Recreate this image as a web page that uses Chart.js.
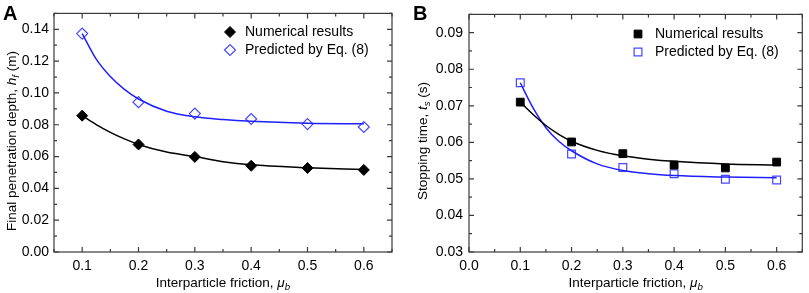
<!DOCTYPE html>
<html>
<head>
<meta charset="utf-8">
<script src="https://cdn.jsdelivr.net/npm/chart.js@4.4.0/dist/chart.umd.min.js"></script>
<style>
  html, body { margin: 0; padding: 0; background: #fff; }
  #wrap { position: relative; width: 809px; height: 293px; }
  #chartA { position: absolute; left: 0; top: 0; }
  #chartB { position: absolute; left: 404px; top: 0; }
</style>
</head>
<body>
<div id="wrap">
  <canvas id="chartA" width="404" height="293"></canvas>
  <canvas id="chartB" width="405" height="293"></canvas>
</div>
<script>
// gemeten punten (x = interparticle friction)
const friction = [0.1, 0.2, 0.3, 0.4, 0.5, 0.6];

// paneel A: final penetration depth (m)
const depthNumerical = [0.0857, 0.0676, 0.0598, 0.0542, 0.0528, 0.0516];
const depthPredicted = [0.1373, 0.0942, 0.0870, 0.0836, 0.0804, 0.0786];
const fitFriction = [0.1, 0.125, 0.15, 0.175, 0.2, 0.25, 0.3, 0.35, 0.4, 0.5, 0.6];
const depthNumFit = [0.0857, 0.0801, 0.0752, 0.0711, 0.0676, 0.0628, 0.0600, 0.0568, 0.0548, 0.0530, 0.0518];
const depthPredFit = [0.1373, 0.1212, 0.1103, 0.1022, 0.0962, 0.0885, 0.0850, 0.0833, 0.0822, 0.0810, 0.0806];

// paneel B: stopping time (s)
const timeNumerical = [0.0710, 0.0601, 0.0569, 0.0538, 0.0530, 0.0546];
const timePredicted = [0.0763, 0.0568, 0.0531, 0.0514, 0.0499, 0.0497];
const timeNumFit = [0.0710, 0.0676, 0.0646, 0.0622, 0.0603, 0.0578, 0.0563, 0.0554, 0.0548, 0.0541, 0.0538];
const timePredFit = [0.0763, 0.0694, 0.0640, 0.0603, 0.0577, 0.0541, 0.0523, 0.0514, 0.0509, 0.0505, 0.0503];

// as-ticks
const xMajorA = [0.1, 0.2, 0.3, 0.4, 0.5, 0.6];
const xMinorA = [0.05, 0.15, 0.25, 0.35, 0.45, 0.55, 0.65];
const yMajorA = [0.00, 0.02, 0.04, 0.06, 0.08, 0.10, 0.12, 0.14];
const yMinorA = [0.01, 0.03, 0.05, 0.07, 0.09, 0.11, 0.13, 0.15];
const xMajorB = [0.0, 0.1, 0.2, 0.3, 0.4, 0.5, 0.6];
const xMinorB = [0.05, 0.15, 0.25, 0.35, 0.45, 0.55, 0.65];
const yMajorB = [0.03, 0.04, 0.05, 0.06, 0.07, 0.08, 0.09];
const yMinorB = [0.035, 0.045, 0.055, 0.065, 0.075, 0.085, 0.095];

const legendLabels = ['Numerical results', 'Predicted by Eq. (8)'];

const FONT = '"Liberation Sans", Arial, sans-serif';
const BLUE_LINE = '#1f1fff';
const BLUE_MARK = '#4646ff';

const zip = (xs, ys) => xs.map((x, i) => ({ x: x, y: ys[i] }));

// tekst met cursief en subscript
function drawRich(ctx, parts, x, y, size, rotate) {
  ctx.save();
  ctx.translate(x, y);
  if (rotate) ctx.rotate(-Math.PI / 2);
  const fontOf = p => (p.italic ? 'italic ' : '') + (p.sub ? size * 0.72 : size) + 'px ' + FONT;
  let w = 0;
  parts.forEach(p => { ctx.font = fontOf(p); w += ctx.measureText(p.text).width; });
  let cx = -w / 2;
  ctx.fillStyle = '#000';
  ctx.textAlign = 'left';
  ctx.textBaseline = 'middle';
  parts.forEach(p => {
    ctx.font = fontOf(p);
    ctx.fillText(p.text, cx, p.sub ? size * 0.3 : 0);
    cx += ctx.measureText(p.text).width;
  });
  ctx.restore();
}

// kader, ticks naar binnen, titels en legenda
const framePlugin = {
  id: 'frame',
  afterDraw(chart, args, opts) {
    const ctx = chart.ctx;
    const a = chart.chartArea;
    const xs = chart.scales.x, ys = chart.scales.y;
    ctx.save();
    ctx.strokeStyle = '#3a3a3a';
    ctx.lineWidth = 1.2;
    ctx.strokeRect(a.left, a.top, a.right - a.left, a.bottom - a.top);
    const tick = (vals, len) => {
      vals.forEach(v => {
        const px = xs.getPixelForValue(v);
        ctx.moveTo(px, a.bottom); ctx.lineTo(px, a.bottom - len);
        ctx.moveTo(px, a.top); ctx.lineTo(px, a.top + len);
      });
    };
    const tickY = (vals, len) => {
      vals.forEach(v => {
        const py = ys.getPixelForValue(v);
        ctx.moveTo(a.left, py); ctx.lineTo(a.left + len, py);
        ctx.moveTo(a.right, py); ctx.lineTo(a.right - len, py);
      });
    };
    ctx.beginPath();
    tick(opts.xMajor, 5); tick(opts.xMinor, 3);
    tickY(opts.yMajor, 5); tickY(opts.yMinor, 3);
    ctx.stroke();

    // paneel-letter
    ctx.fillStyle = '#000';
    ctx.font = 'bold 20px ' + FONT;
    ctx.textAlign = 'left';
    ctx.textBaseline = 'alphabetic';
    ctx.fillText(opts.letter, opts.letterX, 20);

    drawRich(ctx, opts.xTitle, (a.left + a.right) / 2, 283, 13.5, false);
    drawRich(ctx, opts.yTitle, opts.yTitleX, 141, 13.5, true);

    // legenda
    const lg = opts.legend;
    [2, 3].forEach((di, i) => {
      const ds = chart.data.datasets[di];
      const y = lg.y + i * 18;
      ctx.fillStyle = ds.backgroundColor;
      ctx.strokeStyle = ds.borderColor;
      ctx.lineWidth = ds.borderWidth;
      Chart.helpers.drawPoint(ctx, { pointStyle: ds.pointStyle, radius: ds.pointRadius, borderWidth: ds.borderWidth, rotation: 0 }, lg.markX, y);
      ctx.fillStyle = '#000';
      ctx.font = '14px ' + FONT;
      ctx.textBaseline = 'middle';
      ctx.fillText(legendLabels[i], lg.textX, y);
    });
    ctx.restore();
  }
};

function makePanel(id, p) {
  new Chart(document.getElementById(id), {
    type: 'scatter',
    data: {
      datasets: [
        { data: zip(fitFriction, p.numFit), showLine: true, borderColor: '#000', borderWidth: 1.5,
          pointRadius: 0, cubicInterpolationMode: 'monotone' },
        { data: zip(fitFriction, p.predFit), showLine: true, borderColor: BLUE_LINE, borderWidth: 1.5,
          pointRadius: 0, cubicInterpolationMode: 'monotone' },
        { data: zip(friction, p.num), pointStyle: p.style, pointRadius: p.radius,
          backgroundColor: '#000', borderColor: '#000', borderWidth: 1 },
        { data: zip(friction, p.pred), pointStyle: p.style, pointRadius: p.radius,
          backgroundColor: 'rgba(255,255,255,0)', borderColor: BLUE_MARK, borderWidth: 1.2 }
      ]
    },
    options: {
      responsive: false,
      animation: false,
      events: [],
      layout: { padding: { top: p.top, right: p.right, left: 0, bottom: 0 } },
      plugins: {
        legend: { display: false },
        tooltip: { enabled: false },
        frame: p.frame
      },
      scales: {
        x: {
          type: 'linear', min: p.xMin, max: p.xMax,
          afterBuildTicks: s => { s.ticks = p.frame.xMajor.map(v => ({ value: v })); },
          afterFit: s => { s.height = 41; },
          grid: { display: false, drawTicks: false },
          border: { display: false },
          ticks: { autoSkip: false, maxRotation: 0, padding: 6, color: '#000',
                   font: { family: FONT, size: 14 }, callback: v => v.toFixed(1) }
        },
        y: {
          type: 'linear', min: p.yMin, max: p.yMax,
          afterBuildTicks: s => { s.ticks = p.frame.yMajor.map(v => ({ value: v })); },
          afterFit: s => { s.width = p.yWidth; },
          grid: { display: false, drawTicks: false },
          border: { display: false },
          ticks: { autoSkip: false, padding: p.yPad, color: '#000',
                   font: { family: FONT, size: 14 }, callback: v => v.toFixed(2) }
        }
      }
    },
    plugins: [framePlugin]
  });
}

const muTitle = [
  { text: 'Interparticle friction, ' },
  { text: '\u03bc', italic: true },
  { text: 'b', italic: true, sub: true }
];

makePanel('chartA', {
  num: depthNumerical, pred: depthPredicted, numFit: depthNumFit, predFit: depthPredFit,
  style: 'rectRot', radius: 5.5,
  xMin: 0.05, xMax: 0.65, yMin: 0, yMax: 0.15,
  top: 2, right: 12, yWidth: 54, yPad: 5,
  frame: {
    xMajor: xMajorA, xMinor: xMinorA, yMajor: yMajorA, yMinor: yMinorA,
    letter: 'A', letterX: 3,
    xTitle: muTitle,
    yTitle: [
      { text: 'Final penetration depth, ' },
      { text: 'h', italic: true },
      { text: 'f', italic: true, sub: true },
      { text: ' (m)' }
    ],
    yTitleX: 12,
    legend: { markX: 230, textX: 245, y: 32 }
  }
});

makePanel('chartB', {
  num: timeNumerical, pred: timePredicted, numFit: timeNumFit, predFit: timePredFit,
  style: 'rect', radius: 5.5,
  xMin: 0.0, xMax: 0.65, yMin: 0.03, yMax: 0.095,
  top: 3, right: 2, yWidth: 65, yPad: 6,
  frame: {
    xMajor: xMajorB, xMinor: xMinorB, yMajor: yMajorB, yMinor: yMinorB,
    letter: 'B', letterX: 9,
    xTitle: muTitle,
    yTitle: [
      { text: 'Stopping time, ' },
      { text: 't', italic: true },
      { text: 's', italic: true, sub: true },
      { text: ' (s)' }
    ],
    yTitleX: 19,
    legend: { markX: 234, textX: 251, y: 34 }
  }
});
</script>
</body>
</html>
